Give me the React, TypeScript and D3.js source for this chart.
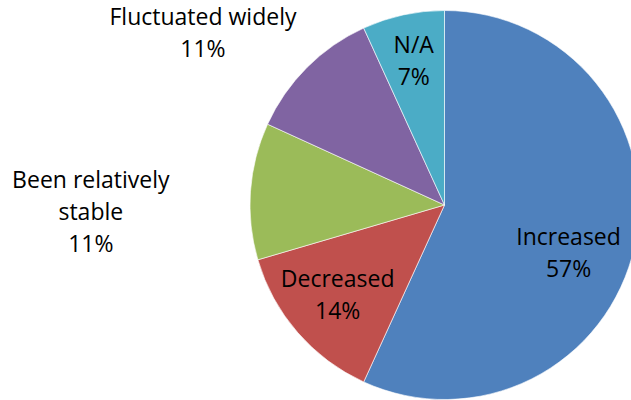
import React from "react";
import * as d3 from "d3";

const categories = ["Increased", "Decreased", "Been relatively stable", "Fluctuated widely", "N/A"];
const counts = [25, 6, 5, 5, 3];
const colors = ["#4F81BD", "#C0504D", "#9BBB59", "#8064A2", "#4BACC6"];
const labelLines = [["Increased"], ["Decreased"], ["Been relatively", "stable"], ["Fluctuated widely"], ["N/A"]];

// label offsets relative to the arc centroid (layout only)
const labelOffsets = [
  { dx: -12.8, dy: 18 },
  { dx: -1, dy: -2 },
  { dx: -214, dy: 16.5 },
  { dx: -142.5, dy: -72.7 },
  { dx: -1, dy: -7 },
];

const W = 631;
const H = 400;
const CX = 444.5;
const CY = 205;
const R = 194.5;
const LINE = 32;
const CAP = 16.4;

export default function App() {
  const total = d3.sum(counts);
  const pie = d3.pie<number>().sort(null).value((d) => d);
  const arcs = pie(counts);
  const arc = d3.arc<d3.PieArcDatum<number>>().innerRadius(0).outerRadius(R);
  const labelArc = d3.arc<d3.PieArcDatum<number>>().innerRadius(R * 0.72).outerRadius(R * 0.72);

  return (
    <svg
      width={W}
      height={H}
      style={{ position: "fixed", left: 0, top: 0, display: "block", background: "#fff" }}
    >
      <g transform={`translate(${CX},${CY})`}>
        {arcs.map((a, i) => (
          <path key={categories[i]} d={arc(a) || ""} fill={colors[i]} stroke="#ffffff" strokeWidth={0.6} />
        ))}
      </g>
      {arcs.map((a, i) => {
        const [x, y] = labelArc.centroid(a);
        const cx = CX + x + labelOffsets[i].dx;
        const cy = CY + y + labelOffsets[i].dy;
        const lines = [...labelLines[i], `${Math.round((counts[i] / total) * 100)}%`];
        const n = lines.length;
        const b1 = cy - ((n - 1) * LINE - CAP) / 2;
        return (
          <text
            key={categories[i]}
            textAnchor="middle"
            fontFamily="'Open Sans', sans-serif"
            fontSize={23}
            fill="#000"
          >
            {lines.map((l, j) => (
              <tspan key={j} x={cx} y={b1 + j * LINE}>
                {l}
              </tspan>
            ))}
          </text>
        );
      })}
    </svg>
  );
}
